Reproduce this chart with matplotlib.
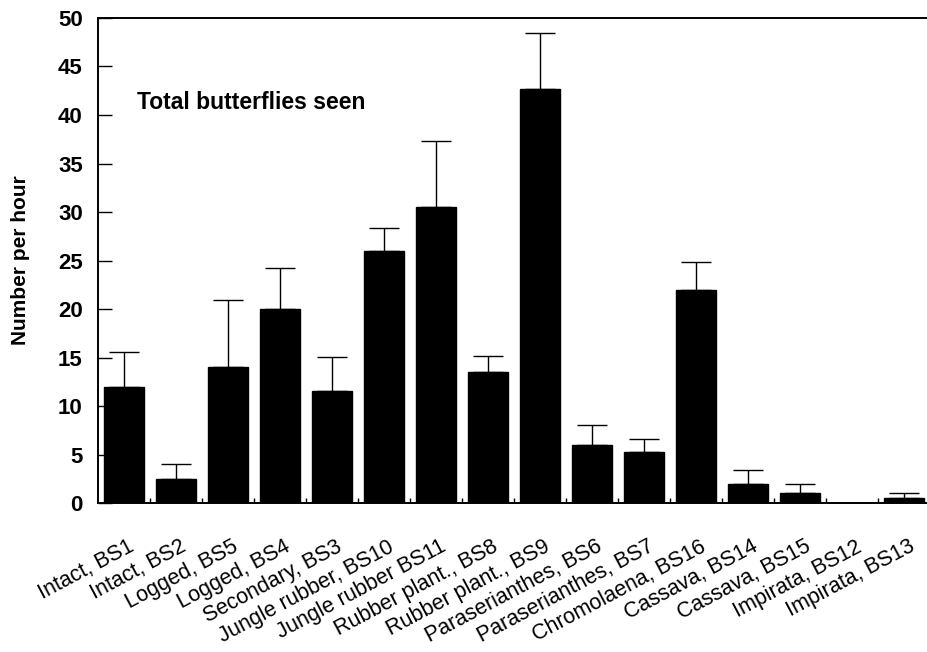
import numpy as np
import matplotlib
matplotlib.use("Agg")
import matplotlib.pyplot as plt
from matplotlib.ticker import FixedLocator
from matplotlib.transforms import ScaledTranslation

plt.rcParams['font.family'] = ['Liberation Sans', 'DejaVu Sans']

# Butterfly counts per site (mean and upper error)
sites = ["Intact, BS1", "Intact, BS2", "Logged, BS5", "Logged, BS4",
         "Secondary, BS3", "Jungle rubber, BS10", "Jungle rubber BS11",
         "Rubber plant., BS8", "Rubber plant., BS9", "Paraserianthes, BS6",
         "Paraserianthes, BS7", "Chromolaena, BS16", "Cassava, BS14",
         "Cassava, BS15", "Impirata, BS12", "Impirata, BS13"]
means = [12.0, 2.5, 14.0, 20.0, 11.5, 26.0, 30.5, 13.5, 42.7, 6.0, 5.3, 22.0, 2.0, 1.0, 0.0, 0.5]
upper_err = [3.6, 1.5, 6.9, 4.2, 3.6, 2.4, 6.8, 1.7, 5.8, 2.0, 1.3, 2.8, 1.4, 1.0, 0.0, 0.5]

fig = plt.figure(figsize=(9.27, 6.52), dpi=100)
ax = fig.add_axes([0.1057, 0.2285, 0.8975, 0.7439])

x = np.arange(len(sites))
ax.bar(x, means, width=0.77, color='black', edgecolor='black', zorder=2)

# only the upper half of the error bars, skip sites with no spread
m = np.array(upper_err) > 0
ax.errorbar(x[m], np.array(means)[m],
            yerr=[np.zeros(m.sum()), np.array(upper_err)[m]],
            fmt='none', ecolor='black', elinewidth=1.0, capsize=11, capthick=1.0, zorder=1)

ax.set_xlim(-0.5, len(sites) - 0.5)
ax.set_ylim(0, 50)
ax.set_yticks(np.arange(0, 51, 5))
ax.tick_params(axis='y', direction='in', length=10, width=1, labelsize=16, pad=11)
for lbl in ax.get_yticklabels():
    lbl.set_fontweight('bold')

ax.set_xticks(x)
ax.set_xticklabels(sites, rotation=28, ha='right', rotation_mode='anchor', fontsize=15.5)
ax.tick_params(axis='x', which='major', length=0, pad=24)
# nudge the slanted labels a little to the right of the bar centres
shift = ScaledTranslation(0.04, 0, fig.dpi_scale_trans)
for lbl in ax.get_xticklabels():
    lbl.set_transform(lbl.get_transform() + shift)
ax.xaxis.set_minor_locator(FixedLocator(x[1:] - 0.5))
ax.tick_params(axis='x', which='minor', direction='in', length=3.5, width=1)

for side in ['left', 'bottom', 'top']:
    ax.spines[side].set_linewidth(1.4)
ax.spines['right'].set_visible(False)

ax.set_ylabel("Number per hour", fontsize=15, fontweight='bold', labelpad=20)
ax.text(0.047, 0.825, "Total butterflies seen", transform=ax.transAxes,
        fontsize=16.5, fontweight='bold', va='center')

fig.savefig("out.png", dpi=100)
